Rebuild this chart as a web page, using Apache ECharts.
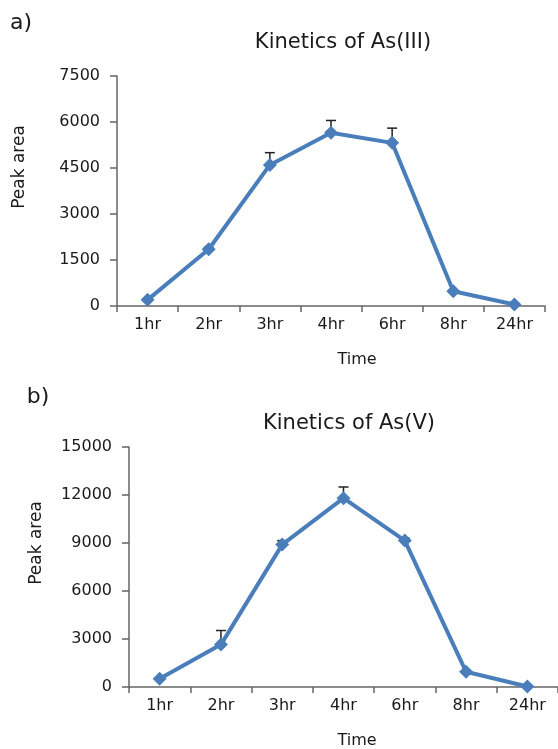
<!DOCTYPE html>
<html>
<head>
<meta charset="utf-8">
<script src="https://cdn.jsdelivr.net/npm/echarts@6/dist/echarts.min.js"></script>
<style>
  html, body { margin: 0; padding: 0; background: #fff; }
  #chart { width: 558px; height: 749px; }
</style>
</head>
<body>
<div id="chart"></div>
<script>
// Sampling times shared by both panels
const categories = ['1hr', '2hr', '3hr', '4hr', '6hr', '8hr', '24hr'];

// Panel a) As(III): mean peak area and upper error
const as3Values = [200, 1850, 4600, 5650, 5320, 480, 50];
const as3Errors = [0, 60, 400, 400, 480, 0, 0];

// Panel b) As(V): mean peak area and upper error
const as5Values = [520, 2650, 8900, 11800, 9150, 950, 30];
const as5Errors = [0, 880, 250, 700, 150, 0, 0];

// Y axis ranges
const as3Axis = { min: 0, max: 7500, interval: 1500 };
const as5Axis = { min: 0, max: 15000, interval: 3000 };

const FONT = 'DejaVu Sans';
const TEXT = '#1a1a1a';
const AXIS = '#666';
const BLUE = '#4a7ebb';

function xAxisFor(gridIndex) {
  return {
    type: 'category', gridIndex, data: categories, boundaryGap: true,
    axisLine: { show: true, lineStyle: { color: AXIS, width: 1.5 } },
    axisTick: { show: true, length: 6, lineStyle: { color: AXIS, width: 1.5 } },
    axisLabel: { color: TEXT, fontFamily: FONT, fontSize: 16, margin: 11 },
    splitLine: { show: false }
  };
}

function yAxisFor(gridIndex, range) {
  return {
    type: 'value', gridIndex, min: range.min, max: range.max, interval: range.interval,
    axisLine: { show: true, lineStyle: { color: AXIS, width: 1.5 } },
    axisTick: { show: true, length: 7, inside: false, lineStyle: { color: AXIS, width: 1.5 } },
    axisLabel: { color: TEXT, fontFamily: FONT, fontSize: 16, margin: 17, formatter: v => String(v) },
    splitLine: { show: false }
  };
}

// Upper-only error bar with a short cap
function errorRender(params, api) {
  const idx = api.value(0);
  const v = api.value(1);
  const e = api.value(2);
  if (!e) return null;
  const base = api.coord([idx, v]);
  const top = api.coord([idx, v + e]);
  const half = 5;
  const style = { stroke: '#222', lineWidth: 1.5 };
  return {
    type: 'group',
    children: [
      { type: 'line', shape: { x1: base[0], y1: base[1], x2: top[0], y2: top[1] }, style },
      { type: 'line', shape: { x1: top[0] - half, y1: top[1], x2: top[0] + half, y2: top[1] }, style }
    ]
  };
}

function lineSeries(xi, yi, values) {
  return {
    type: 'line', xAxisIndex: xi, yAxisIndex: yi, data: values,
    symbol: 'diamond', symbolSize: 14, z: 3,
    lineStyle: { color: BLUE, width: 4 },
    itemStyle: { color: BLUE },
    animation: false
  };
}

function errorSeries(xi, yi, values, errors) {
  return {
    type: 'custom', xAxisIndex: xi, yAxisIndex: yi, z: 2,
    data: values.map((v, i) => [i, v, errors[i]]),
    renderItem: errorRender,
    animation: false
  };
}

function label(text, x, y, size, extra) {
  return Object.assign({
    type: 'text', x, y,
    style: { text, fill: TEXT, font: size + 'px "' + FONT + '"', textAlign: 'center', textVerticalAlign: 'middle' }
  }, extra || {});
}

const chart = echarts.init(document.getElementById('chart'), null, { renderer: 'canvas' });
chart.setOption({
  backgroundColor: '#fff',
  animation: false,
  grid: [
    { left: 117, top: 76, width: 428, height: 230 },
    { left: 129, top: 447, width: 434, height: 240 }
  ],
  xAxis: [xAxisFor(0), xAxisFor(1)],
  yAxis: [yAxisFor(0, as3Axis), yAxisFor(1, as5Axis)],
  series: [
    errorSeries(0, 0, as3Values, as3Errors),
    lineSeries(0, 0, as3Values),
    errorSeries(1, 1, as5Values, as5Errors),
    lineSeries(1, 1, as5Values)
  ],
  graphic: [
    label('a)', 21, 23, 22),
    label('Kinetics of As(III)', 343, 43, 21),
    label('Peak area', 20, 167, 17, { rotation: Math.PI / 2 }),
    label('Time', 357, 360, 16),
    label('b)', 38, 397, 22),
    label('Kinetics of As(V)', 349, 424, 21),
    label('Peak area', 37, 543, 17, { rotation: Math.PI / 2 }),
    label('Time', 357, 741, 16)
  ]
});
</script>
</body>
</html>
